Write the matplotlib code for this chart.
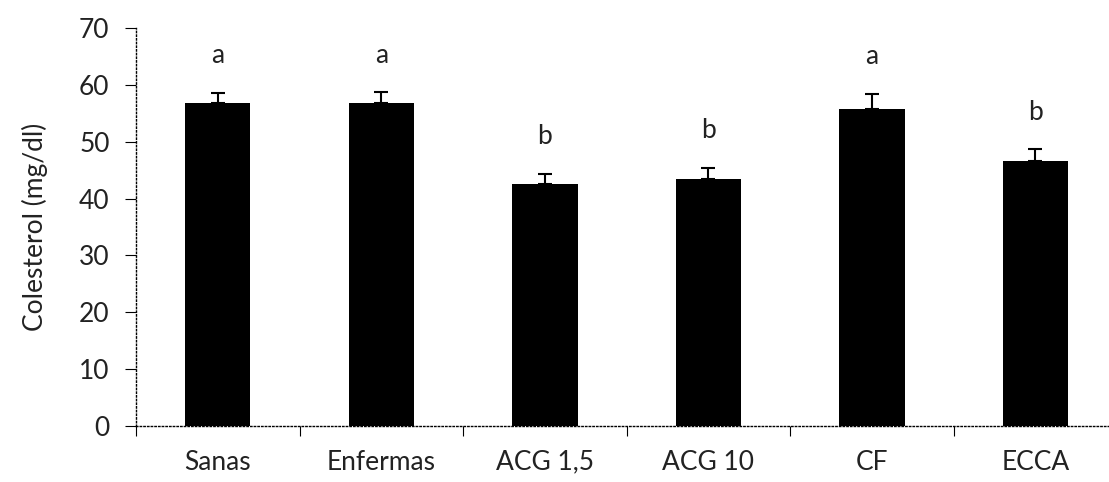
import matplotlib
matplotlib.use("Agg")
import matplotlib.pyplot as plt
import numpy as np

categories = ["Sanas", "Enfermas", "ACG 1,5", "ACG 10", "CF", "ECCA"]
values = [56.8, 56.8, 42.6, 43.5, 55.7, 46.6]
errors = [1.8, 1.9, 1.8, 1.9, 2.7, 2.1]
letters = ["a", "a", "b", "b", "a", "b"]
yticks = [0, 10, 20, 30, 40, 50, 60, 70]

plt.rcParams['font.family'] = ['Lato', 'DejaVu Sans']

fig = plt.figure(figsize=(11.09, 4.82), dpi=100)
ax = fig.add_axes([136/1109, 56/482, (1109-136)/1109, (426-28)/482])

x = np.arange(len(categories))
ax.bar(x, values, width=0.40, color="black", zorder=2)
ax.errorbar(x, values, yerr=[np.zeros(len(errors)), errors], fmt="none",
            ecolor="black", elinewidth=1.5, capsize=5, capthick=1.5, zorder=3)
for xi, v, e, l in zip(x, values, errors, letters):
    ax.text(xi, v + e + 6.5, l, ha="center", va="center", fontsize=19,
            color="#222222")

ax.set_xlim(-0.5, 5.45)
ax.set_ylim(0, 70)
ax.set_yticks(yticks)
ax.set_yticklabels([str(t) for t in yticks], fontsize=19, color="#222222")
ax.set_xticks(x)
ax.set_xticklabels(categories, fontsize=19, color="#222222")
ax.set_xticks(np.arange(-0.5, 5.5, 1.0), minor=True)
ax.tick_params(axis="x", which="major", length=0, pad=17)
ax.tick_params(axis="x", which="minor", length=7, direction="out", width=0.8)
ax.tick_params(axis="y", length=8, direction="out", width=0.8, pad=11)
for t in ax.xaxis.get_minorticklines():
    t.set_linestyle(":")
for t in ax.yaxis.get_ticklines():
    t.set_linestyle(":")

ax.spines["top"].set_visible(False)
ax.spines["right"].set_visible(False)
for s in ["left", "bottom"]:
    ax.spines[s].set_linestyle(":")
    ax.spines[s].set_linewidth(1.0)
    ax.spines[s].set_color("black")

ax.set_ylabel("Colesterol (mg/dl)", fontsize=19, labelpad=22, color="#222222")
fig.savefig("out.png", dpi=100)
